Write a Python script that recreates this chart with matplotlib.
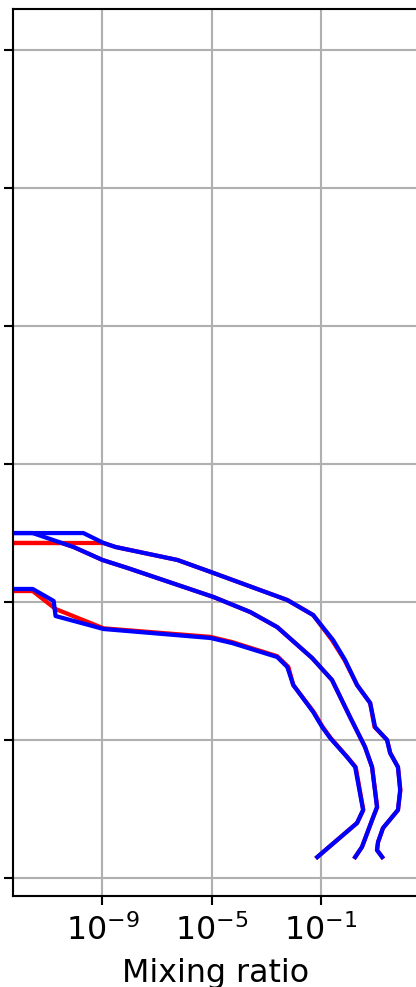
import numpy as np
import matplotlib
matplotlib.use("Agg")
import matplotlib.pyplot as plt
from matplotlib.ticker import NullLocator, FixedLocator

# Altitude (arbitrary units) and log10 mixing ratio for three profiles,
# each in two runs (red / blue). Tiny values fall off the left edge.
FLOOR = -30.0

alt_a_blue = [209.6, 209.6, 200.9, 190.0, 180.6, 174.1, 170.4, 160.3, 153.1, 140.0,
              120.5, 109.6, 101.7, 87.9, 80.6, 49.5, 40.1, 15.4]
log_a_blue = [FLOOR, -11.56, -10.79, -10.72, -8.96, -5.04, -4.24, -2.59, -2.22, -2.00,
              -1.27, -0.94, -0.65, -0.03, 0.27, 0.56, 0.34, -1.12]
alt_a_red = [208.1, 208.1, 195.1, 181.1, 174.9, 171.1, 160.9, 153.1, 140.0,
             120.5, 109.6, 101.7, 87.9, 80.6, 49.5, 40.1, 15.4]
log_a_red = [FLOOR, -11.56, -10.72, -8.96, -5.04, -4.24, -2.59, -2.18, -2.00,
             -1.25, -0.92, -0.63, -0.02, 0.29, 0.57, 0.34, -1.12]

alt_b_blue = [250.1, 250.1, 240.0, 230.6, 224.8, 203.8, 192.9, 182.0, 159.6, 143.7,
              116.9, 95.2, 80.6, 51.6, 42.2, 22.7, 15.4]
log_b_blue = [FLOOR, -11.56, -10.06, -9.00, -8.08, -4.93, -3.58, -2.59, -1.31, -0.58,
              0.08, 0.63, 0.89, 1.07, 0.89, 0.52, 0.27]
alt_b_red = [242.9, 242.9, 240.0, 230.6, 224.8, 203.8, 192.9, 182.0, 159.6, 143.7,
             116.9, 95.2, 80.6, 51.6, 42.2, 22.7, 15.4]
log_b_red = [FLOOR, -10.5, -10.06, -9.00, -8.08, -4.93, -3.58, -2.59, -1.31, -0.58,
             0.08, 0.63, 0.89, 1.08, 0.89, 0.52, 0.27]

alt_c_blue = [250.1, 250.1, 242.9, 240.0, 230.6, 221.2, 201.6, 190.7, 172.6, 158.1,
              140.0, 127.0, 109.6, 100.2, 90.8, 80.6, 63.9, 49.5, 36.4, 26.3, 20.5, 15.4]
log_c_blue = [FLOOR, -9.70, -8.96, -8.52, -6.25, -4.93, -2.22, -1.27, -0.54, -0.10,
              0.34, 0.82, 1.00, 1.44, 1.55, 1.84, 1.92, 1.84, 1.29, 1.11, 1.07, 1.26]
alt_c_red = [242.9, 242.9, 240.0, 230.6, 221.2, 201.6, 190.7, 172.6, 158.1,
             140.0, 127.0, 109.6, 100.2, 90.8, 80.6, 63.9, 49.5, 36.4, 26.3, 20.5, 15.4]
log_c_red = [FLOOR, -8.96, -8.52, -6.25, -4.93, -2.22, -1.27, -0.58, -0.12,
             0.34, 0.82, 0.98, 1.44, 1.56, 1.84, 1.93, 1.84, 1.29, 1.11, 1.07, 1.26]

red_profiles = [(log_a_red, alt_a_red), (log_b_red, alt_b_red), (log_c_red, alt_c_red)]
blue_profiles = [(log_a_blue, alt_a_blue), (log_b_blue, alt_b_blue), (log_c_blue, alt_c_blue)]

x_major = [1e-9, 1e-5, 1e-1]
y_major = [0, 100, 200, 300, 400, 500, 600]

DPI = 190
fig = plt.figure(figsize=(416 / DPI, 987 / DPI), dpi=DPI)
ax = fig.add_axes([12.5 / 416, 91 / 987, 407 / 416, 887 / 987])

for lg, al in red_profiles:
    ax.plot(10.0 ** np.array(lg), al, color="red", lw=1.6)
for lg, al in blue_profiles:
    ax.plot(10.0 ** np.array(lg), al, color="blue", lw=1.6)

ax.set_xscale("log")
ax.set_xlim(10 ** -12.3, 10 ** 2.63)
ax.set_ylim(-12.8, 629.7)
ax.xaxis.set_major_locator(FixedLocator(x_major))
ax.xaxis.set_minor_locator(NullLocator())
ax.yaxis.set_major_locator(FixedLocator(y_major))
ax.tick_params(axis="y", labelleft=False)
ax.tick_params(axis="x", labelsize=12)
ax.grid(True, color="#b0b0b0", lw=0.8)
ax.set_xlabel("Mixing ratio", fontsize=12)

fig.savefig("out.png", dpi=DPI)
